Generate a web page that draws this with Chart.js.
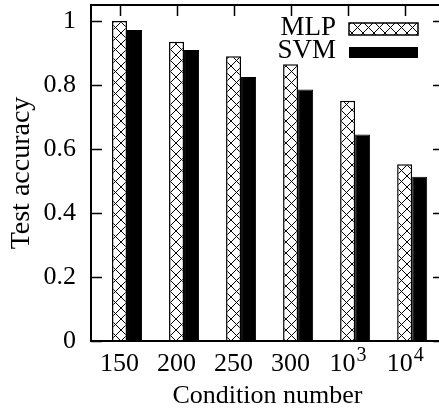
<!DOCTYPE html>
<html>
<head>
<meta charset="utf-8">
<script src="https://cdn.jsdelivr.net/npm/chart.js@4"></script>
<style>
  html, body { margin: 0; padding: 0; overflow: hidden; background: #fff; }
  #wrap { position: absolute; left: 0; top: 0; width: 446px; height: 410px; }
</style>
</head>
<body>
<div id="wrap"><canvas id="accChart" width="446" height="410"></canvas></div>
<script>
const categories = ['150', '200', '250', '300', '10^3', '10^4'];
const mlpAcc = [1.0, 0.935, 0.89, 0.865, 0.751, 0.552];
const svmAcc = [0.972, 0.909, 0.825, 0.786, 0.645, 0.513];
const yTicks = [0, 0.2, 0.4, 0.6, 0.8, 1];

const FONT = 'Liberation Serif, Times New Roman, serif';

// crosshatch fill like gnuplot pattern
function makeHatch() {
    const c = document.createElement('canvas');
    c.width = 11; c.height = 11;
    const g = c.getContext('2d');
    g.fillStyle = '#fff';
    g.fillRect(0, 0, 11, 11);
    g.strokeStyle = '#000';
    g.lineWidth = 1;
    g.beginPath();
    g.moveTo(0, 0); g.lineTo(11, 11);
    g.moveTo(11, 0); g.lineTo(0, 11);
    g.stroke();
    return g.createPattern(c, 'repeat');
}
const hatch = makeHatch();

function drawLabel(ctx, text, x, baseline) {
    const parts = text.split('^');
    ctx.font = '26px ' + FONT;
    const wb = ctx.measureText(parts[0]).width;
    let we = 0;
    if (parts[1]) {
        ctx.font = '20px ' + FONT;
        we = ctx.measureText(parts[1]).width;
    }
    const start = x - (wb + we) / 2;
    ctx.textAlign = 'left';
    ctx.textBaseline = 'alphabetic';
    ctx.font = '26px ' + FONT;
    ctx.fillText(parts[0], start, baseline);
    if (parts[1]) {
        ctx.font = '20px ' + FONT;
        ctx.fillText(parts[1], start + wb + 1, baseline - 10);
    }
}

function noPad(s) {
    s.paddingTop = 0; s.paddingBottom = 0;
    s.paddingLeft = 0; s.paddingRight = 0;
}

const framePlugin = {
    id: 'frame',
    afterDatasetsDraw(chart) {
        const ctx = chart.ctx;
        const a = chart.chartArea;
        const xs = chart.scales.x, ys = chart.scales.y;
        ctx.save();
        ctx.strokeStyle = '#000';
        ctx.fillStyle = '#000';
        // ticks pointing inward
        ctx.lineWidth = 1.5;
        ctx.beginPath();
        yTicks.forEach(v => {
            const y = Math.round(ys.getPixelForValue(v)) + 0.5;
            ctx.moveTo(a.left, y); ctx.lineTo(a.left + 11, y);
            ctx.moveTo(a.right, y); ctx.lineTo(a.right - 11, y);
        });
        categories.forEach((c, i) => {
            const x = Math.round(xs.getPixelForValue(i)) + 0.5;
            ctx.moveTo(x, a.top); ctx.lineTo(x, a.top + 11);
        });
        ctx.stroke();
        // border
        ctx.lineWidth = 2;
        ctx.strokeRect(a.left, a.top, a.right - a.left, a.bottom - a.top);
        // x tick labels (with superscripts)
        categories.forEach((c, i) => {
            drawLabel(ctx, c, xs.getPixelForValue(i), a.bottom + 30);
        });
        // key
        ctx.font = '27px ' + FONT;
        ctx.textAlign = 'right';
        ctx.textBaseline = 'alphabetic';
        ctx.fillText('MLP', 336, 35);
        ctx.fillText('SVM', 336, 58);
        ctx.fillStyle = hatch;
        ctx.fillRect(349, 23, 69, 12);
        ctx.lineWidth = 1.5;
        ctx.strokeRect(349, 23, 69, 12);
        ctx.fillStyle = '#000';
        ctx.fillRect(349, 47, 69, 11);
        ctx.restore();
    }
};

const ctx = document.getElementById('accChart').getContext('2d');
new Chart(ctx, {
    type: 'bar',
    data: {
        datasets: [
            {
                // empty slot so MLP sits on the tick and SVM to its right
                label: '',
                data: categories.map((c, i) => ({ x: i, y: null })),
                backgroundColor: 'rgba(0,0,0,0)'
            },
            {
                label: 'MLP',
                data: mlpAcc.map((v, i) => ({ x: i, y: v })),
                backgroundColor: hatch,
                borderColor: '#000',
                borderWidth: 1.5
            },
            {
                label: 'SVM',
                data: svmAcc.map((v, i) => ({ x: i, y: v })),
                backgroundColor: '#000',
                borderColor: '#000',
                borderWidth: 1
            }
        ]
    },
    options: {
        responsive: false,
        animation: false,
        categoryPercentage: 0.79,
        barPercentage: 1.0,
        layout: { padding: { left: 0, top: 5, right: 2, bottom: 0 } },
        plugins: {
            legend: { display: false },
            tooltip: { enabled: false }
        },
        scales: {
            x: {
                type: 'linear',
                min: -0.5,
                max: 5.69,
                offset: false,
                grid: { display: false, drawTicks: false },
                border: { display: false },
                ticks: { display: false },
                afterBuildTicks: s => { s.ticks = categories.map((c, i) => ({ value: i })); },
                afterFit: s => { s.height = 69; noPad(s); },
                title: {
                    display: true,
                    text: 'Condition number',
                    color: '#000',
                    font: { family: FONT, size: 26, lineHeight: 1.1 },
                    padding: { top: 0, bottom: 0 }
                }
            },
            y: {
                min: 0,
                max: 1.05,
                grid: { display: false, drawTicks: false },
                border: { display: false },
                ticks: {
                    stepSize: 0.2,
                    includeBounds: false,
                    padding: 15,
                    color: '#000',
                    font: { family: FONT, size: 26 },
                    callback: v => String(+v.toFixed(1))
                },
                afterFit: s => { s.width = 91; noPad(s); },
                title: {
                    display: true,
                    text: 'Test accuracy',
                    color: '#000',
                    font: { family: FONT, size: 28, lineHeight: 1.2 },
                    padding: { top: 5, bottom: 0 }
                }
            }
        }
    },
    plugins: [framePlugin]
});
</script>
</body>
</html>
